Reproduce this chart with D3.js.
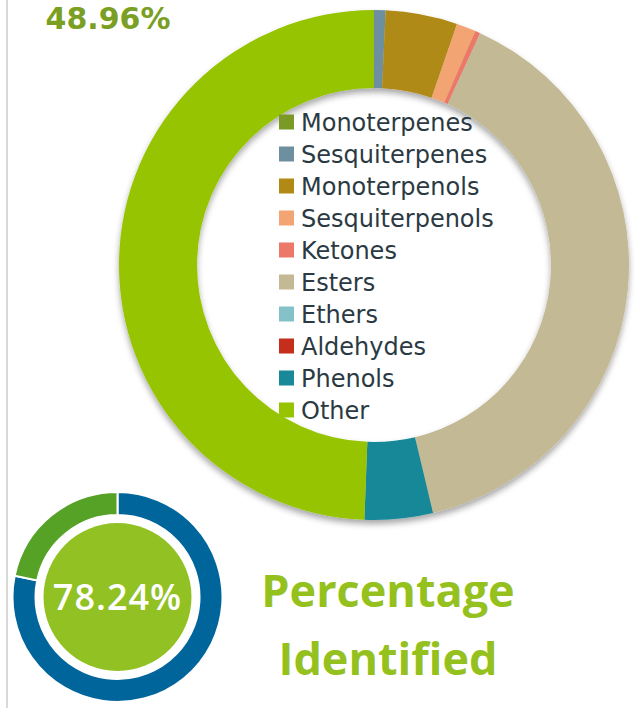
<!DOCTYPE html>
<html><head><meta charset="utf-8">
<script src="https://cdn.jsdelivr.net/npm/d3@7"></script>
<style>html,body{margin:0;padding:0;background:#fff;}svg{display:block;}</style>
</head><body>
<svg id="c" width="638" height="708"></svg>
<script>
const categories = ["Monoterpenes","Sesquiterpenes","Monoterpenols","Sesquiterpenols","Ketones","Esters","Ethers","Aldehydes","Phenols","Other"];
const values = [0, 0.72, 4.51, 1.22, 0.32, 39.1, 0, 0, 4.28, 48.96];
const colors = ["#7a9a25","#6e8fa0","#b08a14","#f2a472","#ec7868","#c3b995","#84c1c8","#c42e1a","#198898","#96c400"];
const headline = "48.96%";
const identifiedLabels = ["Identified","Unidentified"];
const identifiedValues = [78.24, 21.76];
const identifiedColors = ["#00659b","#56a227"];
const identifiedText = "78.24%";
const captionLines = ["Percentage","Identified"];

const svg = d3.select("#c");
const defs = svg.append("defs");
const f = defs.append("filter").attr("id","sh").attr("x","-20%").attr("y","-20%").attr("width","140%").attr("height","140%");
f.append("feDropShadow").attr("dx",0).attr("dy",4).attr("stdDeviation",3).attr("flood-color","#000").attr("flood-opacity",0.35);

// left rule
svg.append("rect").attr("x",6).attr("y",0).attr("width",2).attr("height",708).attr("fill","#d9d9d9");

// main donut
const pie = d3.pie().sort(null).value(d => d);
const arc = d3.arc().innerRadius(177).outerRadius(255);
const g = svg.append("g").attr("transform","translate(374,265)").attr("filter","url(#sh)");
g.selectAll("path").data(pie(values)).join("path")
  .attr("d", arc).attr("fill",(d,i)=>colors[i]);

// headline
svg.append("text").attr("x",108).attr("y",29).attr("text-anchor","middle")
  .attr("font-family","DejaVu Sans").attr("font-weight",700).attr("font-size",30)
  .attr("fill","#7a9f22").text(headline);

// legend
const leg = svg.append("g");
const rowY = d3.scalePoint().domain(categories).range([122,410]);
categories.forEach((c,i)=>{
  const y = rowY(c);
  leg.append("rect").attr("x",279).attr("y",y-7.5).attr("width",15).attr("height",15).attr("fill",colors[i]);
  leg.append("text").attr("x",301).attr("y",y+8.5).attr("font-family","DejaVu Sans")
    .attr("font-size",24).attr("fill","#2b3a42").text(c);
});

// small donut
const sg = svg.append("g").attr("transform","translate(117.5,597)");
const sarc = d3.arc().innerRadius(82).outerRadius(105);
sg.selectAll("path").data(pie(identifiedValues)).join("path")
  .attr("d", sarc).attr("fill",(d,i)=>identifiedColors[i]).attr("stroke","#fff").attr("stroke-width",2);
sg.append("circle").attr("r",74).attr("fill","#92c124");
sg.append("text").attr("y",13).attr("text-anchor","middle").attr("font-family","Open Sans")
  .attr("font-size",36).attr("font-weight",600).attr("letter-spacing",1).attr("fill","#fff").text(identifiedText);

// caption
captionLines.forEach((t,i)=>{
  svg.append("text").attr("x",388).attr("y",607+i*68).attr("text-anchor","middle")
    .attr("font-family","Open Sans").attr("font-weight",700).attr("font-size",45)
    .attr("fill","#95c11f").text(t);
});
</script>
</body></html>
